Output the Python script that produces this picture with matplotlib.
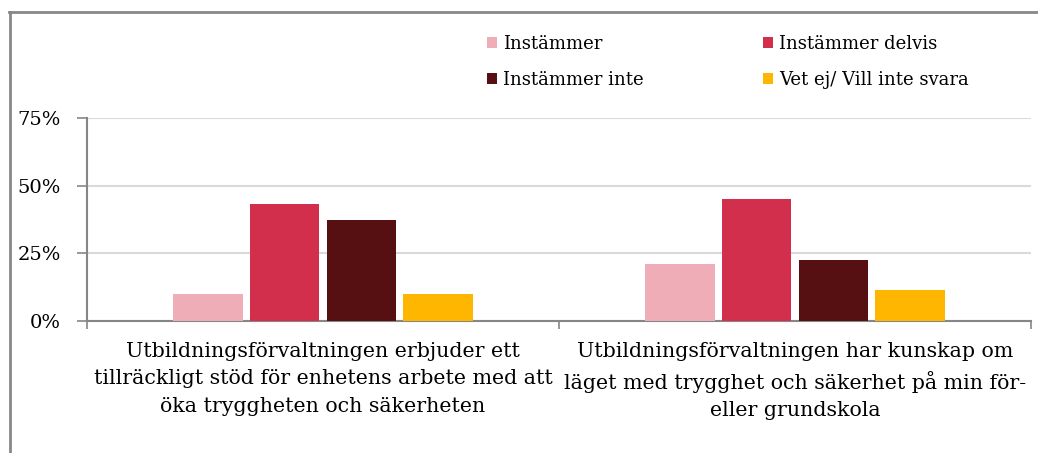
import numpy as np
import matplotlib
matplotlib.use("Agg")
import matplotlib.pyplot as plt
from matplotlib.lines import Line2D
from matplotlib.ticker import FuncFormatter

plt.rcParams['font.family'] = ['DejaVu Serif']

# data
categories = [
    "Utbildningsförvaltningen erbjuder ett\ntillräckligt stöd för enhetens arbete med att\nöka tryggheten och säkerheten",
    "Utbildningsförvaltningen har kunskap om\nläget med trygghet och säkerhet på min för-\neller grundskola",
]
series_names = ["Instämmer", "Instämmer delvis", "Instämmer inte", "Vet ej/ Vill inte svara"]
instammer = [9.8, 21.0]
instammer_delvis = [43.4, 45.2]
instammer_inte = [37.2, 22.7]
vet_ej = [9.8, 11.4]
y_ticks = [0, 25, 50, 75]

colors = ["#EFADB8", "#D22F4D", "#561012", "#FFB600"]
values = [instammer, instammer_delvis, instammer_inte, vet_ej]

fig = plt.figure(figsize=(10.38, 4.53), dpi=100)
ax = fig.add_axes([87 / 1038, 1 - 321 / 453, (1031 - 87) / 1038, (321 - 118) / 453])

x = np.arange(len(categories))
bar_w = 0.148
step = 0.163
bars = []
for i, (vals, name, col) in enumerate(zip(values, series_names, colors)):
    b = ax.bar(x + (i - 1.5) * step, vals, width=bar_w, color=col, label=name, zorder=3)
    bars.append(b)

ax.set_xlim(-0.5, 1.5)
ax.set_ylim(0, 75)
ax.set_yticks(y_ticks)
ax.yaxis.set_major_formatter(FuncFormatter(lambda v, p: f"{int(v)}%"))
ax.grid(axis='y', color='#D9D9D9', linewidth=1.5, zorder=0)
ax.set_xticks(x)
ax.set_xticklabels(categories, fontsize=14.8, linespacing=1.56)
ax.set_xticks([-0.5, 0.5, 1.5], minor=True)
ax.tick_params(axis='x', which='major', length=0, pad=15)
ax.tick_params(axis='x', which='minor', length=6, color='#868686', width=1.2)
ax.tick_params(axis='y', length=7, color='#868686', width=1.2, labelsize=14, pad=12)

for s in ['top', 'right']:
    ax.spines[s].set_visible(False)
for s in ['left', 'bottom']:
    ax.spines[s].set_color('#868686')
    ax.spines[s].set_linewidth(1.5)

# legend in column order like the reference
order = [0, 2, 1, 3]
handles = [bars[i] for i in order]
labels = [series_names[i] for i in order]
fig.legend(handles, labels, ncol=2, loc='upper left', bbox_to_anchor=(487 / 1038, 1 - 35 / 453),
           frameon=False, fontsize=13, handlelength=0.55, handleheight=0.55,
           handletextpad=0.35, columnspacing=6.6, labelspacing=1.0, borderpad=0, borderaxespad=0)

# outer frame (top and left edge visible in the reference)
fig.add_artist(Line2D([9 / 1038, 1], [1 - 12 / 453, 1 - 12 / 453], color='#888888', linewidth=2))
fig.add_artist(Line2D([10 / 1038, 10 / 1038], [0, 1 - 12 / 453], color='#888888', linewidth=2))

fig.savefig("out.png", dpi=100)
